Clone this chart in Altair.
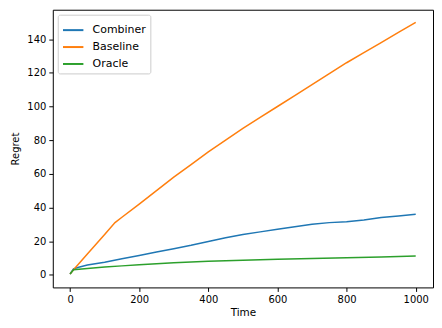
import altair as alt
import pandas as pd

series = ["Combiner", "Baseline", "Oracle"]
colors = ["#1f77b4", "#ff7f0e", "#2ca02c"]

t_base = [0, 10, 50, 100, 130, 150, 200, 250, 300, 350, 400, 450, 500, 550, 600, 650, 700, 750, 800, 850, 900, 950, 1000]
baseline = [0.5, 3, 12.3, 24, 31, 34.2, 42, 50, 58, 65.5, 73, 80, 87, 93.5, 100, 106.5, 113, 119.5, 126, 132, 138, 144, 150]

t_comb = [0, 10, 25, 50, 100, 150, 200, 250, 300, 350, 400, 450, 500, 550, 600, 650, 700, 750, 800, 850, 900, 950, 1000]
combiner = [0.5, 3.5, 4.5, 5.8, 7.5, 9.5, 11.5, 13.5, 15.5, 17.5, 19.8, 22, 24, 25.5, 27, 28.5, 30, 31, 31.5, 32.5, 34, 35, 36]

t_orac = [0, 10, 50, 100, 150, 200, 250, 300, 400, 500, 600, 700, 800, 900, 1000]
oracle = [0.5, 3, 3.8, 4.6, 5.3, 6, 6.6, 7.1, 8, 8.7, 9.2, 9.7, 10.2, 10.6, 11.2]

x_ticks = [0, 200, 400, 600, 800, 1000]
y_ticks = [0, 20, 40, 60, 80, 100, 120, 140]

rows = []
for name, ts, vs in [("Combiner", t_comb, combiner), ("Baseline", t_base, baseline), ("Oracle", t_orac, oracle)]:
    for t, v in zip(ts, vs):
        rows.append({"Time": t, "Regret": v, "Series": name})
df = pd.DataFrame(rows)

font = "DejaVu Sans"

chart = alt.Chart(df).mark_line(strokeWidth=1.5).encode(
    x=alt.X("Time:Q", scale=alt.Scale(domain=[-50, 1050], nice=False, zero=False),
            axis=alt.Axis(values=x_ticks, format="d", title="Time", grid=False, domain=False,
                          tickColor="black", tickSize=4, labelPadding=3,
                          labelFontSize=10, titleFontSize=10.5, titleFontWeight="normal",
                          labelColor="black", titleColor="black", titlePadding=3,
                          labelFont=font, titleFont=font)),
    y=alt.Y("Regret:Q", scale=alt.Scale(domain=[-7.5, 157.5], nice=False, zero=False),
            axis=alt.Axis(values=y_ticks, title="Regret", grid=False, domain=False,
                          tickColor="black", tickSize=4, labelPadding=3,
                          labelFontSize=10, titleFontSize=10, titleFontWeight="normal",
                          labelColor="black", titleColor="black", titlePadding=6,
                          labelFont=font, titleFont=font)),
    color=alt.Color("Series:N", scale=alt.Scale(domain=series, range=colors),
                    sort=series,
                    legend=alt.Legend(title=None, orient="top-left", offset=5,
                                      symbolType="stroke", symbolStrokeWidth=2,
                                      symbolSize=420, labelFontSize=11, labelFont=font,
                                      labelColor="black", fillColor="white",
                                      strokeColor="#cccccc", padding=4, rowPadding=-3,
                                      cornerRadius=2, labelOffset=8)),
    order=alt.Order("Time:Q"),
).properties(
    width=382, height=279, padding={"left": 2, "top": 1, "right": 1, "bottom": 0}
).configure_view(stroke="black", strokeWidth=1)

chart.save("out.html", embed_options={"renderer": "svg", "actions": False})
